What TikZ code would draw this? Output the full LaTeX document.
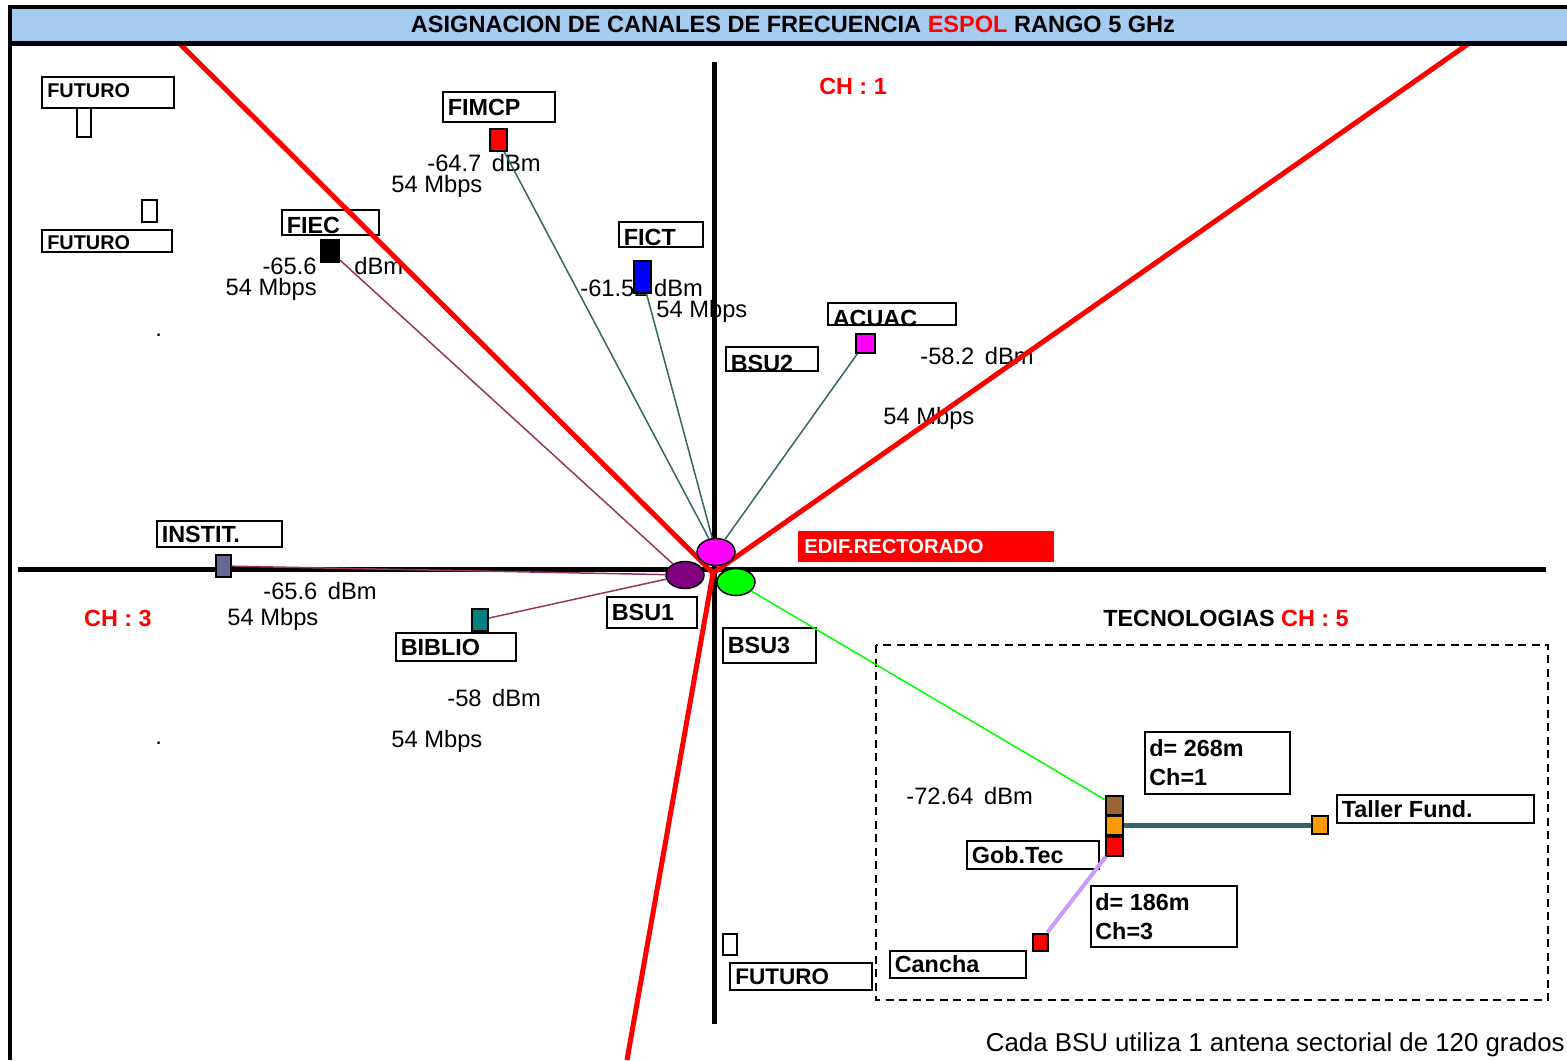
\documentclass[tikz,border=0pt]{standalone}
\usepackage{fontspec}
\setmainfont{Liberation Sans}
\usetikzlibrary{shapes.geometric}

\definecolor{cabecera}{RGB}{166,202,240}
\definecolor{fucsia}{RGB}{255,0,255}
\definecolor{violeta}{RGB}{128,0,128}
\definecolor{pizarra}{RGB}{102,102,153}
\definecolor{verdeazul}{RGB}{0,128,128}
\definecolor{enlace}{RGB}{51,102,102}
\definecolor{vino}{RGB}{153,51,102}
\definecolor{lila}{RGB}{204,153,255}
\definecolor{cafe}{RGB}{153,102,51}
\definecolor{naranja}{RGB}{255,153,0}

\tikzset{
  medida/.style 2 args={minimum width=#1*0.2mm, minimum height=#2*0.2mm},
  caja/.style={draw, line width=0.4mm, fill=white, inner sep=0pt, anchor=north west},
  rotulo/.style={anchor=west, inner sep=0pt, font=\bfseries\fontsize{13.3}{16.5}\selectfont},
  chico/.style={anchor=west, inner sep=0pt, font=\bfseries\fontsize{11.3}{13}\selectfont},
  dato/.style={anchor=west, inner sep=0pt, font=\fontsize{13.5}{15}\selectfont},
  marca/.style={draw, line width=0.4mm, inner sep=0pt},
  bsu/.style={ellipse, draw, line width=0.3mm, inner sep=0pt, medida={38}{27}},
  rayo/.style={line width=0.3mm},
}

\begin{document}
\begin{tikzpicture}[x=0.2mm, y=-0.2mm]
\useasboundingbox (0,0) rectangle (1567,1060);

% ejes
\draw[line width=1mm] (714,62) -- (714,1024);
\draw[line width=1mm] (18,569) -- (1546,569);

% niveles de senal
\node[dato] (fimcpdb) at (427,163) {-64.7 \,dBm};
\node[dato] (fimcpvel) at (391,186) {54 Mbps};
\node[dato, anchor=east] (fiecdb) at (317,266) {-65.6};
\node[dato] (fiecdbm) at (354,266) {dBm};
\node[dato, anchor=east] (fiecvel) at (317,289) {54 Mbps};
\node[dato] (fictdb) at (580,288) {-61.52 dBm};
\node[dato] (fictvel) at (656,311) {54 Mbps};
\node[dato] (acuacdb) at (920,356) {-58.2 \,dBm};
\node[dato] (acuacvel) at (883,418) {54 Mbps};
\node[dato] (institdb) at (263,591) {-65.6 \,dBm};
\node[dato] (institvel) at (227,619) {54 Mbps};
\node[dato] (bibliodb) at (447,698) {-58 \,dBm};
\node[dato] (bibliovel) at (391,741) {54 Mbps};
\node[dato] (tecdb) at (906,796) {-72.64 \,dBm};
\node[dato] (punto1) at (155,335) {.};
\node[dato] (punto2) at (155,743) {.};
\node[dato, anchor=east, font=\fontsize{14.7}{16}\selectfont] (nota) at (1565,1045) {Cada BSU utiliza 1 antena sectorial de 120 grados};

% canales
\node[rotulo, anchor=center, text=red] (ch1) at (853,86) {CH : 1};
\node[rotulo, anchor=center, text=red] (ch3) at (118,618) {CH : 3};
\node[rotulo, anchor=center] (ch5) at (1226,618) {TECNOLOGIAS \textcolor{red}{CH : 5}};
\draw[dashed, dash pattern=on 1.6mm off 1.1mm, line width=0.3mm] (876,645) rectangle (1548,1000);

% cajas de edificios
\node[caja, medida={132}{31}] (futuro1) at (41,76) {};
\node[chico] (futuro1t) at ([xshift=1.2mm,yshift=0.3mm]futuro1.west) {FUTURO};
\node[caja, medida={130}{22}] (futuro2) at (41,229) {};
\node[chico] (futuro2t) at ([xshift=1.2mm,yshift=-0.3mm]futuro2.west) {FUTURO};
\node[caja, medida={112}{30}] (fimcp) at (442,91) {};
\node[rotulo] (fimcpt) at ([xshift=1.1mm]fimcp.west) {FIMCP};
\node[caja, medida={97}{25}] (fiec) at (281,209) {};
\node[rotulo] (fiect) at ([xshift=1.1mm,yshift=-0.5mm]fiec.west) {FIEC};
\node[caja, medida={84}{25}] (fict) at (618,221) {};
\node[rotulo] (fictt) at ([xshift=1.1mm,yshift=-0.5mm]fict.west) {FICT};
\node[caja, medida={128}{22}] (acuac) at (827,302) {};
\node[rotulo] (acuact) at ([xshift=1.1mm,yshift=-0.8mm]acuac.west) {ACUAC};
\node[caja, medida={92}{24}] (bsu2) at (725,346) {};
\node[rotulo] (bsu2t) at ([xshift=1.1mm,yshift=-0.8mm]bsu2.west) {BSU2};
\node[caja, medida={125}{26}] (instit) at (156,520) {};
\node[rotulo] (institt) at ([xshift=1.1mm]instit.west) {INSTIT.};
\node[caja, medida={120}{28}] (biblio) at (395,632) {};
\node[rotulo] (bibliot) at ([xshift=1.1mm]biblio.west) {BIBLIO};
\node[caja, medida={90}{31}] (bsu1) at (606,596) {};
\node[rotulo] (bsu1t) at ([xshift=1.1mm]bsu1.west) {BSU1};
\node[caja, medida={93}{35}] (bsu3) at (722,627) {};
\node[rotulo] (bsu3t) at ([xshift=1.1mm]bsu3.west) {BSU3};
\node[caja, medida={142}{27}] (futuro3) at (729,962) {};
\node[rotulo, font=\bfseries\fontsize{12.8}{14}\selectfont] (futuro3t) at ([xshift=1.2mm]futuro3.west) {FUTURO};
\node[caja, medida={145}{62}] (enlace1) at (1144,731) {};
\node[rotulo, align=left] (enlace1t) at ([xshift=1mm]enlace1.west) {d= 268m\\Ch=1};
\node[caja, medida={197}{28}] (taller) at (1336,794) {};
\node[rotulo] (tallert) at ([xshift=1.1mm]taller.west) {Taller Fund.};
\node[caja, medida={132}{28}] (gobtec) at (966,840) {};
\node[rotulo] (gobtect) at ([xshift=1.1mm]gobtec.west) {Gob.Tec};
\node[caja, medida={146}{61}] (enlace2) at (1090,885) {};
\node[rotulo, align=left] (enlace2t) at ([xshift=1mm]enlace2.west) {d= 186m\\Ch=3};
\node[caja, medida={136}{27}] (cancha) at (889,950) {};
\node[rotulo] (canchat) at ([xshift=1.1mm]cancha.west) {Cancha};

\node[fill=red, inner sep=0pt, anchor=north west, medida={256}{31}] (rectorado) at (798,531) {};
\node[rotulo, text=white, font=\bfseries\fontsize{11.5}{13}\selectfont] (rectoradot) at ([xshift=1.2mm]rectorado.west) {EDIF.RECTORADO};

% sectores de 120 grados
\draw[red, line width=1mm] (180,44) -- (713,573) -- (1468,44);
\draw[red, line width=1mm] (713,573) -- (627,1060);

% estaciones base
\node[bsu, fill=fucsia] (bsu2e) at (716,552) {};
\node[bsu, fill=violeta] (bsu1e) at (685,575) {};
\node[bsu, fill=green] (bsu3e) at (736,582) {};

% equipos de abonado
\node[marca, fill=red, medida={17}{22}] (fimcpm) at (498,140) {};
\node[marca, fill=black, medida={18}{22}] (fiecm) at (330,251) {};
\node[marca, fill=blue, medida={17}{32}] (fictm) at (642,277) {};
\node[marca, fill=fucsia, medida={19}{19}] (acuacm) at (865,343) {};
\node[marca, fill=pizarra, medida={15}{22}] (institm) at (223,566) {};
\node[marca, fill=verdeazul, medida={16}{22}] (bibliom) at (480,620) {};
\node[marca, fill=cafe, medida={17}{19}] (tec1m) at (1114,805) {};
\node[marca, fill=naranja, medida={17}{19}] (tec2m) at (1114,825) {};
\node[marca, fill=red, medida={17}{19}] (tec3m) at (1114,846) {};
\node[marca, fill=naranja, medida={16}{18}] (tallerm) at (1320,825) {};
\node[marca, fill=red, medida={15}{17}] (cancham) at (1040,942) {};
\node[marca, fill=white, medida={14}{29}] (vacio1) at (84,122) {};
\node[marca, fill=white, medida={15}{22}] (vacio2) at (149,211) {};
\node[marca, fill=white, medida={14}{21}] (vacio3) at (730,944) {};

% enlaces
\draw[vino, rayo] (fiecm) -- (bsu1e);
\draw[vino, rayo] (institm) -- (bsu1e);
\draw[vino, rayo] (bibliom) -- (bsu1e);
\draw[enlace, rayo] (fimcpm) -- (bsu2e);
\draw[enlace, rayo] (fictm) -- (bsu2e);
\draw[enlace, rayo] (acuacm) -- (bsu2e);
\draw[green, rayo] (bsu3e) -- (tec1m);
\draw[enlace, line width=1mm] (tec2m) -- (tallerm);
\draw[lila, line width=0.8mm] (tec3m) -- (cancham);

% cabecera
\fill[cabecera] (10,7) rectangle (1567,43);
\draw[line width=0.7mm] (10,7) -- (1567,7);
\draw[line width=1mm] (10,43) -- (1567,43);
\draw[line width=0.8mm] (10,5) -- (10,1060);
\node[font=\bfseries\fontsize{13.4}{15}\selectfont] (titulo) at (793,24) {ASIGNACION DE CANALES DE FRECUENCIA \textcolor{red}{ESPOL} RANGO 5 GHz};
\end{tikzpicture}
\end{document}
